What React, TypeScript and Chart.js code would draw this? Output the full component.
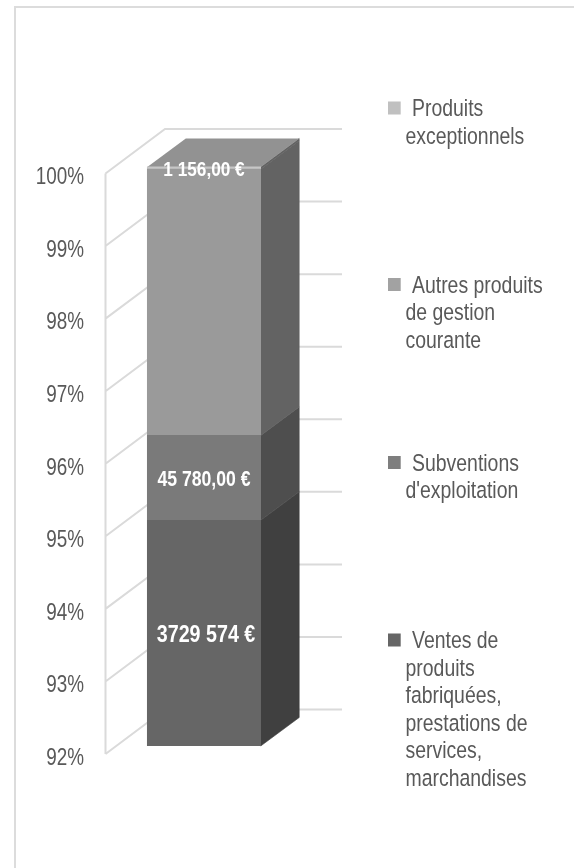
import React, { useEffect, useRef } from "react";
import { Chart, registerables } from "chart.js";

Chart.register(...registerables);

const categories = ["Total"];
const ventes = [95.11];
const subventions = [1.17];
const autres = [3.67];
const exceptionnels = [0.03];

const seriesNames = [
  "Ventes de produits fabriquées, prestations de services, marchandises",
  "Subventions d'exploitation",
  "Autres produits de gestion courante",
  "Produits exceptionnels",
];
const frontColors = ["#666666", "#7a7a7a", "#9a9a9a", "#c6c6c6"];
const sideColors = ["#404040", "#4e4e4e", "#636363", "#636363"];
const legendColors = ["#666666", "#7e7e7e", "#a2a2a2", "#c0c0c0"];
const topColor = "#929292";
const valueLabels = ["3729 574 €", "45 780,00 €", "", "1 156,00 €"];
const valueLabelSizes = [24, 21.5, 21.5, 21];
const legendLines = [
  ["Ventes de", "produits", "fabriquées,", "prestations de", "services,", "marchandises"],
  ["Subventions", "d'exploitation"],
  ["Autres produits", "de gestion", "courante"],
  ["Produits", "exceptionnels"],
];
const legendTops = [648, 470.5, 292.5, 116];

const GRID = "#dadada";
const TEXT = "#595959";
const FONT = '"Liberation Sans", Arial, sans-serif';
const NARROW = 0.82;

const wall = { dx: 60, dy: -44.5, shiftY: -3.5 };
const bar = { dx: 38.5, dy: -28.5, shiftX: -19.5, shiftY: -11.5, width: 113.4 };

function narrowText(ctx: CanvasRenderingContext2D, text: string, x: number, y: number) {
  ctx.save();
  ctx.translate(x, y);
  ctx.scale(NARROW, 1);
  ctx.fillText(text, 0, 0);
  ctx.restore();
}

const scene = {
  id: "scene",
  beforeDatasetsDraw(chart: any) {
    const { ctx, chartArea, scales } = chart;
    const y = scales.y;
    ctx.save();
    ctx.strokeStyle = GRID;
    ctx.lineWidth = 2;
    ctx.beginPath();
    ctx.moveTo(chartArea.left + 0.5, y.getPixelForValue(100) + wall.shiftY);
    ctx.lineTo(chartArea.left + 0.5, y.getPixelForValue(92) + wall.shiftY);
    for (const t of y.ticks) {
      const py = y.getPixelForValue(t.value) + wall.shiftY;
      ctx.moveTo(chartArea.left + 0.5, py);
      ctx.lineTo(chartArea.left + wall.dx, py + wall.dy);
      ctx.lineTo(chartArea.right, py + wall.dy);
    }
    ctx.stroke();

    const meta0 = chart.getDatasetMeta(0).data[0];
    const cx = meta0.x + bar.shiftX;
    const x0 = cx - bar.width / 2;
    const x1 = cx + bar.width / 2;
    let lastTop = 0;
    ctx.lineWidth = 0.6;
    chart.data.datasets.forEach((_: any, i: number) => {
      const el = chart.getDatasetMeta(i).data[0];
      const top = el.y + bar.shiftY;
      const base = Math.min(el.base, y.getPixelForValue(92)) + bar.shiftY;
      ctx.fillStyle = sideColors[i];
      ctx.strokeStyle = sideColors[i];
      ctx.beginPath();
      ctx.moveTo(x1, base);
      ctx.lineTo(x1 + bar.dx, base + bar.dy);
      ctx.lineTo(x1 + bar.dx, top + bar.dy);
      ctx.lineTo(x1, top);
      ctx.closePath();
      ctx.fill();
      ctx.stroke();
      lastTop = top;
    });
    ctx.fillStyle = topColor;
    ctx.beginPath();
    ctx.moveTo(x0, lastTop);
    ctx.lineTo(x1, lastTop);
    ctx.lineTo(x1 + bar.dx, lastTop + bar.dy);
    ctx.lineTo(x0 + bar.dx, lastTop + bar.dy);
    ctx.closePath();
    ctx.fill();
    ctx.restore();
    ctx.save();
    ctx.translate(bar.shiftX, bar.shiftY);
  },
  afterDatasetsDraw(chart: any) {
    const { ctx, scales, chartArea } = chart;
    ctx.restore();
    ctx.save();

    ctx.font = `23px ${FONT}`;
    ctx.fillStyle = TEXT;
    ctx.textAlign = "right";
    ctx.textBaseline = "middle";
    scales.y.ticks.forEach((t: any) => {
      narrowText(ctx, t.label, chartArea.left - 21, scales.y.getPixelForValue(t.value) + 1);
    });

    ctx.fillStyle = "#ffffff";
    ctx.textAlign = "center";
    chart.data.datasets.forEach((_: any, i: number) => {
      if (!valueLabels[i]) return;
      ctx.font = `bold ${valueLabelSizes[i]}px ${FONT}`;
      const el = chart.getDatasetMeta(i).data[0];
      const base = Math.min(el.base, scales.y.getPixelForValue(92));
      const mid = (el.y + base) / 2 + bar.shiftY;
      const nudgeX = i === 0 ? 2 : 0;
      const nudgeY = i === 3 ? 2.5 : 2;
      narrowText(ctx, valueLabels[i], el.x + bar.shiftX + nudgeX, mid + nudgeY);
    });

    ctx.font = `23.7px ${FONT}`;
    ctx.textAlign = "left";
    ctx.textBaseline = "alphabetic";
    legendLines.forEach((lines, i) => {
      const first = legendTops[i];
      ctx.fillStyle = legendColors[i];
      ctx.fillRect(388, first - 14.5, 12.7, 13);
      ctx.fillStyle = TEXT;
      lines.forEach((line, j) => {
        narrowText(ctx, line, j === 0 ? 412 : 405.5, first + j * 27.6);
      });
    });
    ctx.restore();
  },
};

export default function App() {
  const ref = useRef<HTMLCanvasElement>(null);
  useEffect(() => {
    const sets = [ventes, subventions, autres, exceptionnels];
    const chart = new Chart(ref.current!, {
      type: "bar",
      data: {
        labels: categories,
        datasets: sets.map((data, i) => ({
          label: seriesNames[i],
          data,
          backgroundColor: frontColors[i],
          barThickness: bar.width,
        })),
      },
      options: {
        animation: false,
        responsive: false,
        events: [],
        layout: { padding: { top: 177, bottom: 110.5, left: 0, right: 232 } },
        plugins: { legend: { display: false }, tooltip: { enabled: false }, title: { display: false } },
        scales: {
          x: { stacked: true, display: false },
          y: {
            stacked: true,
            min: 92,
            max: 100,
            afterFit: (s: any) => {
              s.width = 105;
            },
            border: { display: false },
            grid: { display: false },
            ticks: {
              display: false,
              stepSize: 1,
              callback: (v: any) => `${v}%`,
            },
          },
        },
      },
      plugins: [scene],
    });
    return () => chart.destroy();
  }, []);
  return (
    <div
      style={{
        position: "absolute",
        left: 0,
        top: 0,
        width: 574,
        height: 868,
        background: "#fff",
        overflow: "hidden",
      }}
    >
      <div
        style={{
          position: "absolute",
          left: 14,
          top: 6,
          width: 600,
          height: 900,
          border: "2px solid #dcdcdc",
        }}
      />
      <canvas ref={ref} width={574} height={868} style={{ position: "absolute", left: 0, top: 0 }} />
    </div>
  );
}
